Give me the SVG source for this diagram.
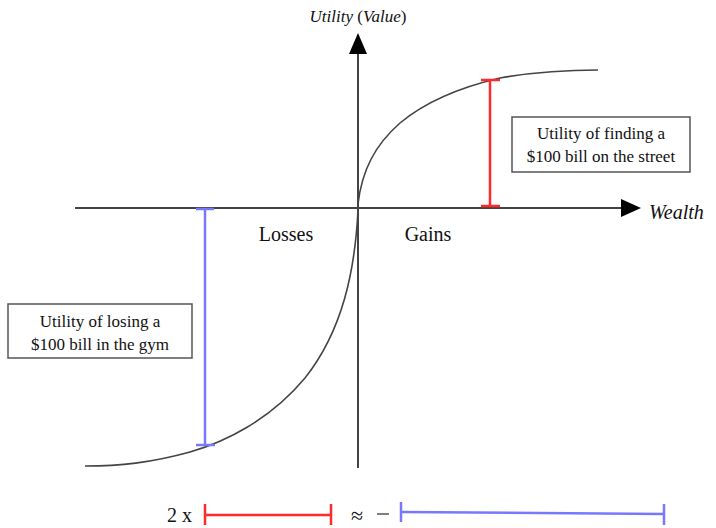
<svg xmlns="http://www.w3.org/2000/svg" width="716" height="528" viewBox="0 0 716 528">
<style>
text{font-family:'Liberation Serif','Times New Roman','DejaVu Serif','Noto Serif',serif;fill:#111}
.lbl{font-size:17px}
.ax{font-size:20px}
.tt{font-size:17px}
.it{font-style:italic}
.axis{stroke:#444;stroke-width:2;fill:none}
.curve{stroke:#444;stroke-width:1.6;fill:none}
.red{stroke:#ff2a2a;stroke-width:2.5;fill:none}
.blue{stroke:#7878ff;stroke-width:2.5;fill:none}
.box{fill:#fff;stroke:#555;stroke-width:1.5}
</style>
<rect width="716" height="528" fill="#fff"/>
<g id="axes">
<line class="axis" x1="75" y1="208" x2="624" y2="208"/>
<polygon points="621,199 641,208 621,217" fill="#000"/>
<line class="axis" x1="358" y1="468" x2="358" y2="52"/>
<polygon points="349,54 358,33 367,54" fill="#000"/>
</g>
<g id="curves">
<path class="curve" d="M358,204 C362,170 375,145 400,123 C430,98 470,85 500,78 C540,71 570,70 598,70"/>
<path class="curve" d="M358,210 C355,270 343,330 305,378 C270,420 225,442 190,452 C150,463 120,466 85,466"/>
</g>
<g id="connectors">
<line class="red" x1="490" y1="80" x2="490" y2="206"/>
<line class="red" x1="481" y1="80" x2="500" y2="80"/>
<line class="red" x1="481" y1="206" x2="500" y2="206"/>
<line class="blue" x1="205" y1="209" x2="205" y2="445"/>
<line class="blue" x1="196" y1="209" x2="214" y2="209"/>
<line class="blue" x1="196" y1="445" x2="215" y2="445"/>
</g>
<g id="title">
<text class="tt" x="358" y="22" text-anchor="middle"><tspan class="it">Utility</tspan> (<tspan class="it">Value</tspan>)</text>
</g>
<g id="wealth"><text class="ax it" x="649" y="219">Wealth</text></g>
<g id="losses"><text class="ax" x="286" y="241" text-anchor="middle">Losses</text></g>
<g id="gains"><text class="ax" x="428" y="241" text-anchor="middle">Gains</text></g>
<g id="box-gain">
<rect class="box" x="512" y="117" width="178" height="55"/>
<text class="lbl" x="601" y="139" text-anchor="middle">Utility of finding a</text>
<text class="lbl" x="601" y="162" text-anchor="middle">$100 bill on the street</text>
</g>
<g id="box-loss">
<rect class="box" x="8" y="304" width="184" height="54"/>
<text class="lbl" x="100" y="327" text-anchor="middle">Utility of losing a</text>
<text class="lbl" x="100" y="350" text-anchor="middle">$100 bill in the gym</text>
</g>
<g id="equation">
<text class="ax" x="167" y="522">2 x</text>
<line class="red" x1="205" y1="515" x2="331" y2="515"/>
<line class="red" x1="205" y1="504" x2="205" y2="525"/>
<line class="red" x1="331" y1="504" x2="331" y2="525"/>
<text x="357" y="523" font-size="22" text-anchor="middle">≈</text>
<line x1="377" y1="514" x2="389" y2="514" stroke="#555" stroke-width="1.5"/>
<line class="blue" x1="401" y1="512" x2="664" y2="514"/>
<line class="blue" x1="401" y1="502" x2="401" y2="522"/>
<line class="blue" x1="664" y1="504" x2="664" y2="525"/>
</g>
</svg>
